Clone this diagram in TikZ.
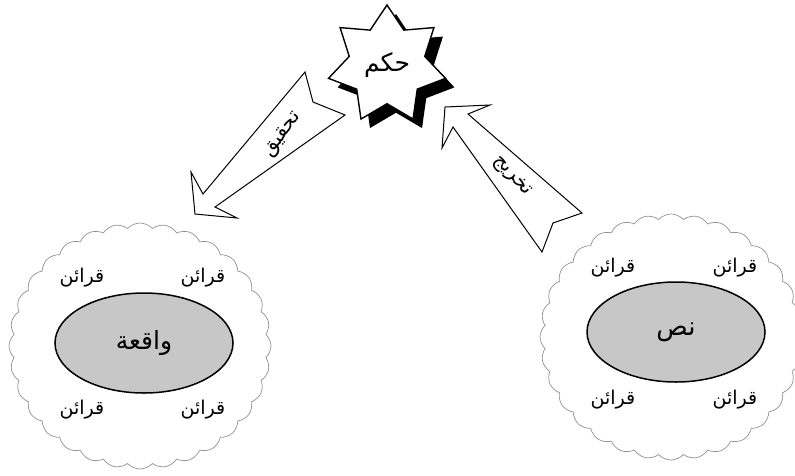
\documentclass[tikz,border=0pt]{standalone}
\usepackage{fontspec}
\setmainfont{DejaVu Sans}
\newfontfamily\arabicfont[Script=Arabic]{DejaVu Sans}
\TeXXeTstate=1
\usetikzlibrary{shapes.geometric,shapes.symbols,shadows}
\newcommand\artxt[2]{{\fontsize{#1}{#1}\arabicfont\beginR #2\endR}}
\tikzset{
  blockarrow/.style={draw=black, line width=1pt, fill=white, line join=miter},
  cloudbox/.style={cloud, cloud puffs=32, cloud puff arc=95, draw=gray!85, line width=0.7pt, fill=white,
    minimum width=262pt, minimum height=246pt, aspect=1.07, inner sep=0pt},
  corebox/.style={ellipse, draw=black, line width=1.5pt, fill=black!22, minimum width=178pt, minimum height=100pt, inner sep=0pt},
  hintlabel/.style={inner sep=0pt},
  starbox/.style={star, star points=7, star point ratio=1.55, minimum size=120pt, draw=black, line width=1.4pt,
    fill=white, inner sep=0pt, drop shadow={shadow xshift=9pt, shadow yshift=-9pt, fill=black, opacity=1}},
}
\begin{document}
\begin{tikzpicture}[x=1pt,y=-1pt]
\clip (0,0) rectangle (795,475);
\fill[white] (0,0) rectangle (795,475);

% clouds
\node[cloudbox] (cloudL) at (140,346) {};
\node[cloudbox] (cloudR) at (671,337) {};

% ellipses
\node[corebox] (waqia) at (144,343) {\artxt{25pt}{واقعة}};
\node[corebox] (nass) at (676,332) {\artxt{26pt}{نص}};

% qara'in labels
\node[hintlabel] (qL1) at (82,278) {\artxt{19pt}{قرائن}};
\node[hintlabel] (qL2) at (203,278) {\artxt{19pt}{قرائن}};
\node[hintlabel] (qL3) at (82,410) {\artxt{19pt}{قرائن}};
\node[hintlabel] (qL4) at (203,410) {\artxt{19pt}{قرائن}};
\node[hintlabel] (qR1) at (613,268) {\artxt{19pt}{قرائن}};
\node[hintlabel] (qR2) at (735,268) {\artxt{19pt}{قرائن}};
\node[hintlabel] (qR3) at (613,400) {\artxt{19pt}{قرائن}};
\node[hintlabel] (qR4) at (735,400) {\artxt{19pt}{قرائن}};

% block arrows
\draw[blockarrow] (195,214) -- (191,172) -- (203,194) -- (305,72) -- (313,102) -- (345,115) -- (215,207) -- (237,218) -- cycle;
\draw[blockarrow] (445,107) -- (490,105) -- (468,114) -- (582,213) -- (553,223) -- (542,252) -- (453,127) -- (442,148) -- cycle;
\node[rotate=54, inner sep=0pt] (tahqiq) at (283,135) {\artxt{20pt}{تحقيق}};
\node[rotate=-48, inner sep=0pt] (takhrij) at (512,176) {\artxt{20pt}{تخريج}};

% star
\node[starbox] (hukm) at (387,65) {\artxt{25pt}{حكم}};
\end{tikzpicture}
\end{document}
